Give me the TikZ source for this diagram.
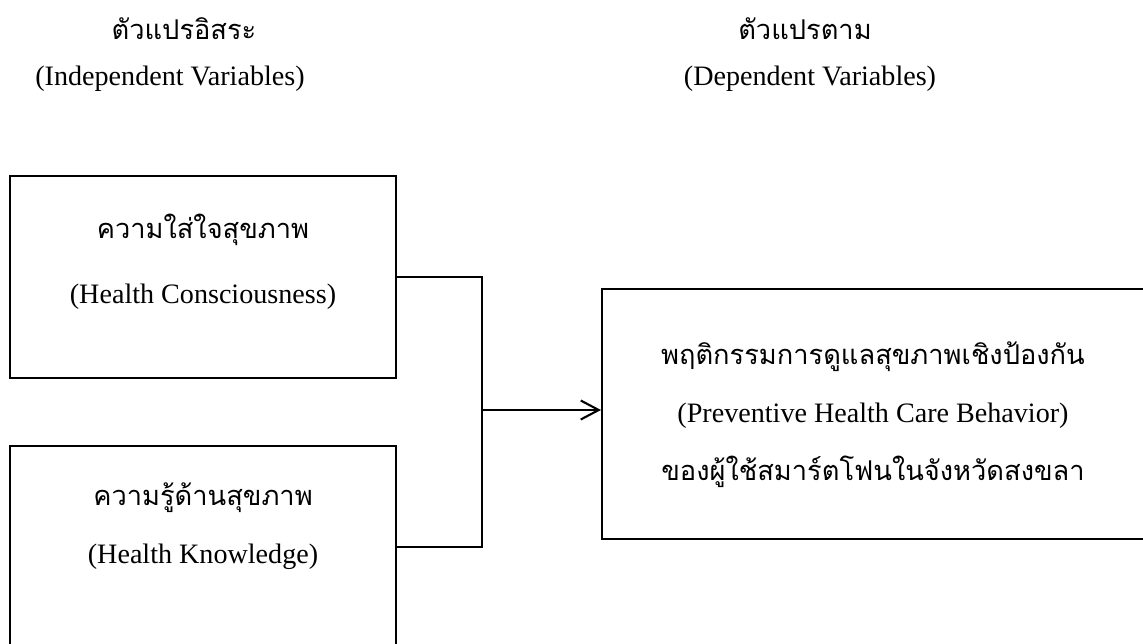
\documentclass[tikz,border=0pt]{standalone}
\usepackage{fontspec}
\setmainfont{Liberation Serif}
\newfontfamily\thaifont[Script=Thai]{Loma}
\usetikzlibrary{arrows.meta}

\begin{document}
\begin{tikzpicture}[x=0.02cm, y=-0.02cm,
    every node/.style={font=\fontsize{16}{19}\selectfont},
    thai/.style={font=\fontsize{15.5}{19}\selectfont\thaifont},
    varbox/.style={draw, line width=1.2pt, minimum width=7.72cm, minimum height=4.04cm},
    outbox/.style={draw, line width=1.2pt, minimum width=10.96cm, minimum height=5cm}]
            \useasboundingbox (0,0) rectangle (1143,643);
            \clip (0,0) rectangle (1143,643);

            \node[thai] (hin) at (184, 29) {ตัวแปรอิสระ};
            \node (hinen) at (170, 79) {(Independent Variables)};
            \node[thai] (hdep) at (805, 29) {ตัวแปรตาม};
            \node (hdepen) at (810, 79) {(Dependent Variables)};

            \node[varbox] (hc) at (203, 277) {};
            \node[varbox] (hk) at (203, 547) {};
            \node[outbox] (phb) at (876, 414) {};

            \node[thai] (hcth) at (203, 230) {ความใส่ใจสุขภาพ};
            \node (hcen) at (203, 297) {(Health Consciousness)};
            \node[thai] (hkth) at (203, 498) {ความรู้ด้านสุขภาพ};
            \node (hken) at (203, 557) {(Health Knowledge)};
            \node[thai] (phbth) at (873, 357) {พฤติกรรมการดูแลสุขภาพเชิงป้องกัน};
            \node (phben) at (873, 416) {(Preventive Health Care Behavior)};
            \node[thai] (phbth2) at (873, 472) {ของผู้ใช้สมาร์ตโฟนในจังหวัดสงขลา};

            \coordinate (join) at (482, 410);
            \draw[line width=1.2pt] (hc.east) -| (join);
            \draw[line width=1.2pt] (hk.east) -| (join);
            \draw[line width=1.2pt, -{Straight Barb[length=3.6mm, width=3.8mm]}] (join) -- (join -| phb.west);
        \end{tikzpicture}
\end{document}
